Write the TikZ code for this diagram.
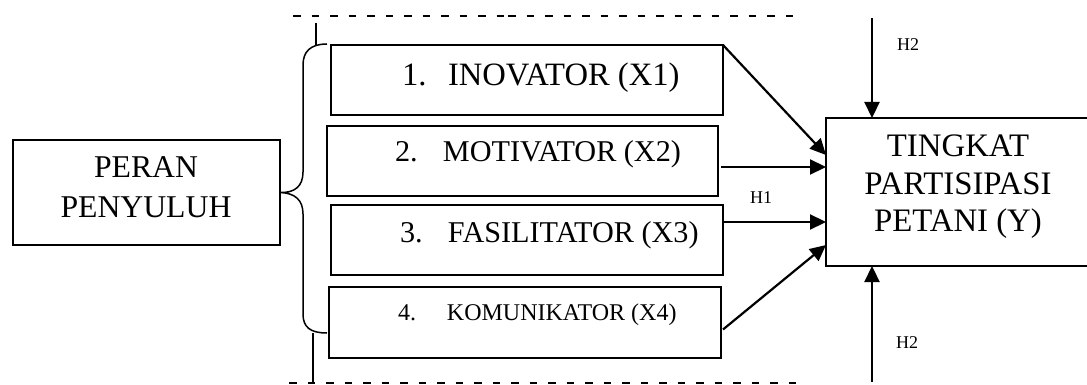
\documentclass[tikz,border=0pt]{standalone}
\usepackage{fontspec}
\setmainfont{Liberation Serif}
\usetikzlibrary{arrows.meta,calc}
\begin{document}
\begin{tikzpicture}[x=1pt,y=-1pt,
  box/.style={draw,line width=1.5pt,inner sep=0pt,outer sep=0pt,anchor=north west},
  lbl/.style={inner sep=0pt,outer sep=0pt},
  arr/.style={line width=2.2pt,-{Triangle[length=16pt,width=15pt]}},
  dashline/.style={line width=2pt,dash pattern=on 7.5pt off 11pt},
  bracel/.style={line width=1.5pt}]
\useasboundingbox (0,0) rectangle (1087,385);
% boxes
\node[box,minimum width=267pt,minimum height=105pt] (P) at (13,140) {};
\node[box,minimum width=392pt,minimum height=70pt] (b1) at (331,45) {};
\node[box,minimum width=391pt,minimum height=70pt] (b2) at (327,126) {};
\node[box,minimum width=392pt,minimum height=70pt] (b3) at (331,205) {};
\node[box,minimum width=392pt,minimum height=71pt] (b4) at (329,287) {};
\node[box,minimum width=280pt,minimum height=148pt] (Y) at (826,118) {};
% texts
\node[lbl,anchor=base,font=\fontsize{31.7}{38}\selectfont] (tP1) at (146,177) {PERAN};
\node[lbl,anchor=base,font=\fontsize{31.7}{38}\selectfont] (tP2) at (146,217) {PENYULUH};
\node[lbl,anchor=base west,font=\fontsize{32.6}{38}\selectfont] (t1) at (402,86) {\makebox[46pt][l]{1.}INOVATOR (X1)};
\node[lbl,anchor=base west,font=\fontsize{30.2}{36}\selectfont] (t2) at (395,161) {\makebox[48pt][l]{2.}MOTIVATOR (X2)};
\node[lbl,anchor=base west,font=\fontsize{30.2}{36}\selectfont] (t3) at (400,242) {\makebox[48pt][l]{3.}FASILITATOR (X3)};
\node[lbl,anchor=base west,font=\fontsize{24}{28}\selectfont] (t4) at (398,320) {\makebox[49pt][l]{4.}KOMUNIKATOR (X4)};
\node[lbl,anchor=base,font=\fontsize{32.8}{38}\selectfont] (tY1) at (958,157) {TINGKAT};
\node[lbl,anchor=base,font=\fontsize{32.8}{38}\selectfont] (tY2) at (958,194) {PARTISIPASI};
\node[lbl,anchor=base,font=\fontsize{32.8}{38}\selectfont] (tY3) at (958,231) {PETANI (Y)};
\node[lbl,anchor=base west,font=\fontsize{18}{22}\selectfont] (h1) at (750,203) {H1};
\node[lbl,anchor=base west,font=\fontsize{18}{22}\selectfont] (h2a) at (897,51) {H2};
\node[lbl,anchor=base west,font=\fontsize{18}{22}\selectfont] (h2b) at (896,348) {H2};
% arrows to Y
\draw[arr] (b1.north east) -- ($(Y.north west)+(0,37)$);
\coordinate (s2) at ($(b2.east)+(3,6)$);
\draw[arr] (s2) -- (s2 -| Y.west);
\coordinate (s3) at ($(b3.north east)+(0,17)$);
\draw[arr] (s3) -- (s3 -| Y.west);
\draw[arr] ($(b4.east)+(2,7)$) -- ($(Y.north west)+(0,127)$);
% H2 arrows
\coordinate (top2) at (872,18);
\coordinate (bot2) at (872,382);
\draw[arr] (top2) -- (top2 |- Y.north);
\draw[arr] (bot2) -- (bot2 |- Y.south);
% brace
\draw[bracel] (327,44) .. controls (310,44) and (303,52) .. (303,65) -- (303,172)
  .. controls (303,186) and (295,193) .. (P.east)
  .. controls (295,193) and (303,200) .. (303,214) -- (303,314)
  .. controls (303,327) and (310,333) .. (327,333);
\coordinate (tk1) at (316,23);
\coordinate (tk2) at (313,383);
\draw[bracel] (tk1) -- (316,45);
\draw[bracel] (313,333) -- (tk2);
% dashed lines
\draw[dashline] (293,16) -- (507,16);
\draw[dashline] (508,16) -- (797,16);
\draw[dashline] (289,383) -- (805,383);
\end{tikzpicture}
\end{document}
